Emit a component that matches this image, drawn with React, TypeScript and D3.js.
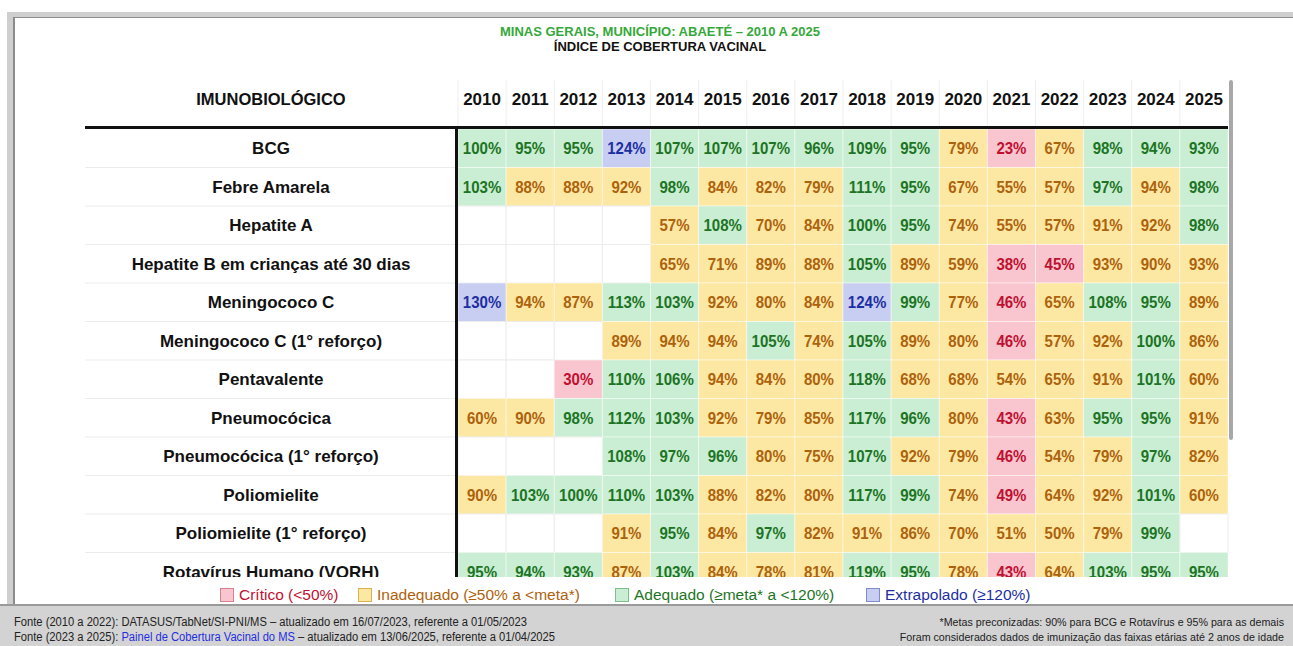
import React, { useEffect } from 'react';
import * as d3 from 'd3';

const years = ['2010', '2011', '2012', '2013', '2014', '2015', '2016', '2017', '2018', '2019', '2020', '2021', '2022', '2023', '2024', '2025'];

const vaccines = [
  'BCG',
  'Febre Amarela',
  'Hepatite A',
  'Hepatite B em crianças até 30 dias',
  'Meningococo C',
  'Meningococo C (1° reforço)',
  'Pentavalente',
  'Pneumocócica',
  'Pneumocócica (1° reforço)',
  'Poliomielite',
  'Poliomielite (1° reforço)',
  'Rotavírus Humano (VORH)',
];

// meta (goal) per vaccine: 90% for BCG and Rotavírus, 95% for the rest
const metas = [90, 95, 95, 95, 95, 95, 95, 95, 95, 95, 95, 90];

const bcg = [100, 95, 95, 124, 107, 107, 107, 96, 109, 95, 79, 23, 67, 98, 94, 93];
const febreAmarela = [103, 88, 88, 92, 98, 84, 82, 79, 111, 95, 67, 55, 57, 97, 94, 98];
const hepatiteA = [null, null, null, null, 57, 108, 70, 84, 100, 95, 74, 55, 57, 91, 92, 98];
const hepatiteB = [null, null, null, null, 65, 71, 89, 88, 105, 89, 59, 38, 45, 93, 90, 93];
const meningoC = [130, 94, 87, 113, 103, 92, 80, 84, 124, 99, 77, 46, 65, 108, 95, 89];
const meningoC1 = [null, null, null, 89, 94, 94, 105, 74, 105, 89, 80, 46, 57, 92, 100, 86];
const pentavalente = [null, null, 30, 110, 106, 94, 84, 80, 118, 68, 68, 54, 65, 91, 101, 60];
const pneumococica = [60, 90, 98, 112, 103, 92, 79, 85, 117, 96, 80, 43, 63, 95, 95, 91];
const pneumococica1 = [null, null, null, 108, 97, 96, 80, 75, 107, 92, 79, 46, 54, 79, 97, 82];
const poliomielite = [90, 103, 100, 110, 103, 88, 82, 80, 117, 99, 74, 49, 64, 92, 101, 60];
const poliomielite1 = [null, null, null, 91, 95, 84, 97, 82, 91, 86, 70, 51, 50, 79, 99, null];
const rotavirus = [95, 94, 93, 87, 103, 84, 78, 81, 119, 95, 78, 43, 64, 103, 95, 95];

const series = [bcg, febreAmarela, hepatiteA, hepatiteB, meningoC, meningoC1, pentavalente, pneumococica, pneumococica1, poliomielite, poliomielite1, rotavirus];

const legendLabels = ['Crítico (<50%)', 'Inadequado (≥50% a <meta*)', 'Adequado (≥meta* a <120%)', 'Extrapolado (≥120%)'];

const palette = {
  critico: { bg: '#f9c6d0', fg: '#c01030', border: '#d9808f' },
  inadequado: { bg: '#fde8a3', fg: '#ad620c', border: '#d8b24e' },
  adequado: { bg: '#c9eed3', fg: '#1c7424', border: '#7fbf8e' },
  extrapolado: { bg: '#c8cef1', fg: '#1d2ea3', border: '#7f8ad0' },
};
const legendKeys = ['critico', 'inadequado', 'adequado', 'extrapolado'];

function classify(v: number, meta: number) {
  if (v < 50) return palette.critico;
  if (v < meta) return palette.inadequado;
  if (v < 120) return palette.adequado;
  return palette.extrapolado;
}

const FONT = '"Liberation Sans", Arial, Helvetica, sans-serif';

const squeeze = (cx: number, k: number) => `translate(${cx},0) scale(${k},1) translate(${-cx},0)`;

export default function App() {
  useEffect(() => {
    document.body.style.margin = '0';
  }, []);

  const W = 1293;
  const H = 646;

  const x = d3.scaleBand().domain(years).range([458, 1228]);
  const y = d3.scaleBand().domain(vaccines).range([129, 129 + 12 * 38.5]);
  const labelCx = 271;

  const cells: any[] = [];
  series.forEach((vals, r) => {
    vals.forEach((v, c) => {
      cells.push({ vaccine: vaccines[r], year: years[c], v, meta: metas[r] });
    });
  });

  const legendX = [220, 358, 615, 866];

  return (
    <svg width={W} height={H} style={{ display: 'block', fontFamily: FONT }}>
      <defs>
        <clipPath id="tableClip">
          <rect x={0} y={0} width={W} height={577} />
        </clipPath>
      </defs>
      <rect x={0} y={0} width={W} height={H} fill="#ffffff" />
      {/* frame */}
      <rect x={7} y={12} width={W} height={594} fill="#cfcfcf" />
      <rect x={13} y={17} width={W} height={588} fill="#8c8c8c" />
      <rect x={15} y={18} width={W} height={586} fill="#ffffff" />
      <rect x={0} y={604} width={W} height={2} fill="#9a9a9a" />
      <rect x={0} y={606} width={W} height={40} fill="#d3d3d3" />

      {/* titles */}
      <text x={660} y={36} textAnchor="middle" fontSize={13} fontWeight="bold" fill="#35a83a">
        MINAS GERAIS, MUNICÍPIO: ABAETÉ – 2010 A 2025
      </text>
      <text x={660} y={51} textAnchor="middle" fontSize={13} fontWeight="bold" fill="#111">
        ÍNDICE DE COBERTURA VACINAL
      </text>

      {/* header */}
      {years.map((yr) => (
        <line key={'hd' + yr} x1={x(yr)!} x2={x(yr)!} y1={80} y2={127} stroke="#eeeeee" />
      ))}
      <text x={labelCx} y={105} textAnchor="middle" fontSize={16.5} fontWeight="bold" fill="#111">IMUNOBIOLÓGICO</text>
      {years.map((yr) => (
        <text key={'yt' + yr} x={x(yr)! + x.bandwidth() / 2} y={105} textAnchor="middle" fontSize={17} fontWeight="bold" fill="#111">
          {yr}
        </text>
      ))}

      <g clipPath="url(#tableClip)">
        {/* label column row dividers */}
        {vaccines.map((vc) => (
          <line key={'rl' + vc} x1={85} x2={456} y1={y(vc)! + y.bandwidth()} y2={y(vc)! + y.bandwidth()} stroke="#ececec" />
        ))}
        {vaccines.map((vc) => (
          <text key={'lb' + vc} x={labelCx} y={y(vc)! + y.bandwidth() / 2 + 6} textAnchor="middle" fontSize={17} fontWeight="bold" fill="#111">
            {vc}
          </text>
        ))}
        {/* cells */}
        {cells.map((d) => {
          const cx = x(d.year)!;
          const cy = y(d.vaccine)!;
          const col = d.v == null ? null : classify(d.v, d.meta);
          const mid = cx + x.bandwidth() / 2;
          return (
            <g key={d.vaccine + d.year}>
              <rect x={cx} y={cy} width={x.bandwidth()} height={y.bandwidth()} fill={col ? col.bg : '#ffffff'} stroke={col ? 'rgba(255,255,255,0.45)' : '#ececec'} strokeWidth={1} />
              {d.v != null && (
                <text x={mid} y={cy + y.bandwidth() / 2 + 6} textAnchor="middle" fontSize={16} fontWeight="bold" fill={col!.fg}
                  transform={squeeze(mid, 0.94)}>
                  {d.v + '%'}
                </text>
              )}
            </g>
          );
        })}
        {/* vertical rule */}
        <rect x={455} y={127} width={3} height={460} fill="#111" />
      </g>
      <rect x={85} y={126} width={1143} height={3} fill="#111" />

      {/* scrollbar */}
      <rect x={1229} y={80} width={4} height={360} rx={2} fill="#a8a8a8" />

      {/* legend */}
      {legendKeys.map((k, i) => {
        const p = (palette as any)[k];
        return (
          <g key={k}>
            <rect x={legendX[i] + 0.5} y={588.5} width={13} height={13} fill={p.bg} stroke={p.border} />
            <text x={legendX[i] + 19} y={600} fontSize={15.5} fill={p.fg}>
              {legendLabels[i]}
            </text>
          </g>
        );
      })}

      {/* footer */}
      <text x={14} y={626} fontSize={12} fill="#222" textLength={513} lengthAdjust="spacingAndGlyphs">
        Fonte (2010 a 2022): DATASUS/TabNet/SI-PNI/MS – atualizado em 16/07/2023, referente a 01/05/2023
      </text>
      <text x={14} y={641} fontSize={12} fill="#222" textLength={541} lengthAdjust="spacingAndGlyphs">
        Fonte (2023 a 2025): <tspan fill="#1f2fe0">Painel de Cobertura Vacinal do MS</tspan> – atualizado em 13/06/2025, referente a 01/04/2025
      </text>
      <text x={1284} y={626} textAnchor="end" fontSize={11.5} fill="#222" transform={squeeze(1284, 0.93)}>
        *Metas preconizadas: 90% para BCG e Rotavírus e 95% para as demais
      </text>
      <text x={1284} y={641} textAnchor="end" fontSize={11.5} fill="#222" transform={squeeze(1284, 0.93)}>
        Foram considerados dados de imunização das faixas etárias até 2 anos de idade
      </text>
    </svg>
  );
}
